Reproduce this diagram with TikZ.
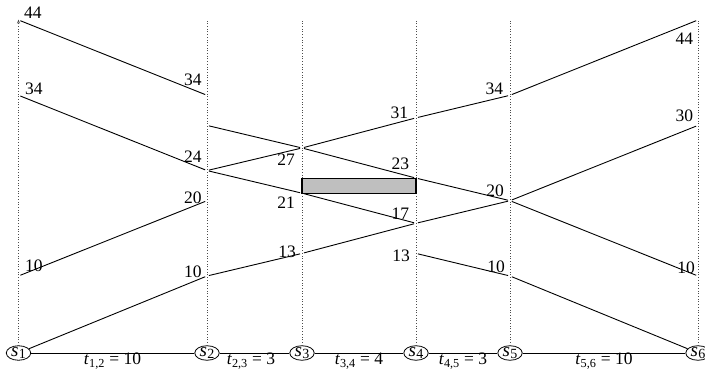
\documentclass[tikz,border=0pt]{standalone}
\usepackage{fontspec}
\setmainfont{Liberation Serif}
\usetikzlibrary{shapes.geometric,arrows.meta}
\newcommand{\stnname}[1]{\textit{s}\kern0.3pt\raisebox{-2.6pt}{\fontsize{14}{14}\selectfont #1}}
\begin{document}
\begin{tikzpicture}[x=1pt,y=-1pt,
  train/.style={line width=0.9pt, shorten <=2pt, shorten >=2pt},
  guide/.style={dotted, line width=0.7pt, black!70},
  lbl/.style={font=\fontsize{17.5}{20}\selectfont, inner sep=0pt},
  stn/.style={ellipse, draw, line width=0.8pt, minimum width=24.5pt, minimum height=14.5pt, inner sep=-1.2pt, font=\fontsize{19}{20}\selectfont},
  link/.style={line width=0.9pt},
  blockbox/.style={draw, line width=1.2pt, fill=black!25}]
\useasboundingbox (0,0) rectangle (705,374);
% stations
\node[stn] (s1) at (18.5,353) {\stnname{1}};
\node[stn] (s2) at (207,353) {\stnname{2}};
\node[stn] (s3) at (302,353) {\stnname{3}};
\node[stn] (s4) at (416,353) {\stnname{4}};
\node[stn] (s5) at (510,353) {\stnname{5}};
\node[stn] (s6) at (698,353) {\stnname{6}};
% time points
\foreach \n/\x in {1/18.5,2/207,3/302,4/416,5/510,6/698}{
  \coordinate (top\n) at (\x,19.5);
  \foreach \t in {0,10,13,17,20,21,23,24,27,30,31,34,44}{
    \coordinate (p\n-\t) at (\x,{351.3-7.53*\t});
  }
}
% guides
\draw[guide,-{Stealth[length=4pt,width=3pt]}] (s1.north) -- (top1);
\foreach \n in {2,...,6}{\draw[guide] (s\n.north) -- (top\n);}
% bottom links
\draw[link] (s1) -- (s2);
\draw[link] (s2) -- (s3);
\draw[link] (s3) -- (s4);
\draw[link] (s4) -- (s5);
\draw[link] (s5) -- (s6);
\node[lbl,anchor=base] (t12) at (112.5,365) {\textit{t}\textsubscript{1,2} = 10};
\node[lbl,anchor=base] (t23) at (251,364.5) {\textit{t}\textsubscript{2,3} = 3};
\node[lbl,anchor=base] (t34) at (359,365) {\textit{t}\textsubscript{3,4} = 4};
\node[lbl,anchor=base] (t45) at (463,365) {\textit{t}\textsubscript{4,5} = 3};
\node[lbl,anchor=base] (t56) at (604,365) {\textit{t}\textsubscript{5,6} = 10};
% blocked section
\draw[blockbox] (p3-23) rectangle (p4-21);
% train A
\draw[train] (p1-10) -- (p2-20);
\draw[train] (p2-24) -- (p3-27);
\draw[train] (p3-27) -- (p4-31);
\draw[train] (p4-31) -- (p5-34);
\draw[train] (p5-34) -- (p6-44);
% train B
\draw[train,shorten <=0pt] (s1) -- (p2-10);
\draw[train] (p2-10) -- (p3-13);
\draw[train] (p3-13) -- (p4-17);
\draw[train] (p4-17) -- (p5-20);
\draw[train] (p5-20) -- (p6-30);
% train C
\draw[train,shorten <=0pt] (s6) -- (p5-10);
\draw[train] (p5-10) -- (p4-13);
\draw[train] (p4-17) -- (p3-21);
\draw[train] (p3-21) -- (p2-24);
\draw[train] (p2-24) -- (p1-34);
% train D
\draw[train] (p6-10) -- (p5-20);
\draw[train] (p5-20) -- (p4-23);
\draw[train] (p4-23) -- (p3-27);
\draw[train] (p3-27) -- (p2-30);
\draw[train] (p2-34) -- (p1-44);
% time labels
\node[lbl,anchor=base west] (l1a) at (24,18.3) {44};
\node[lbl,anchor=base west] (l1b) at (25,94.3) {34};
\node[lbl,anchor=base west] (l1c) at (25,271.7) {10};
\node[lbl,anchor=base east] (l2a) at (201.7,86) {34};
\node[lbl,anchor=base east] (l2b) at (201.7,162.7) {24};
\node[lbl,anchor=base east] (l2c) at (201.7,204) {20};
\node[lbl,anchor=base east] (l2d) at (201.7,278) {10};
\node[lbl,anchor=base east] (l3a) at (295,166) {27};
\node[lbl,anchor=base east] (l3b) at (295,208.3) {21};
\node[lbl,anchor=base east] (l3c) at (296,258) {13};
\node[lbl,anchor=base east] (l4a) at (408.3,118.3) {31};
\node[lbl,anchor=base east] (l4b) at (409.3,170) {23};
\node[lbl,anchor=base east] (l4c) at (409.3,219.3) {17};
\node[lbl,anchor=base east] (l4d) at (410,261.7) {13};
\node[lbl,anchor=base east] (l5a) at (503.3,95) {34};
\node[lbl,anchor=base east] (l5b) at (504,196.7) {20};
\node[lbl,anchor=base east] (l5c) at (505,272.7) {10};
\node[lbl,anchor=base east] (l6a) at (693.3,45) {44};
\node[lbl,anchor=base east] (l6b) at (693.3,121.7) {30};
\node[lbl,anchor=base east] (l6c) at (695,273.3) {10};
\end{tikzpicture}
\end{document}
